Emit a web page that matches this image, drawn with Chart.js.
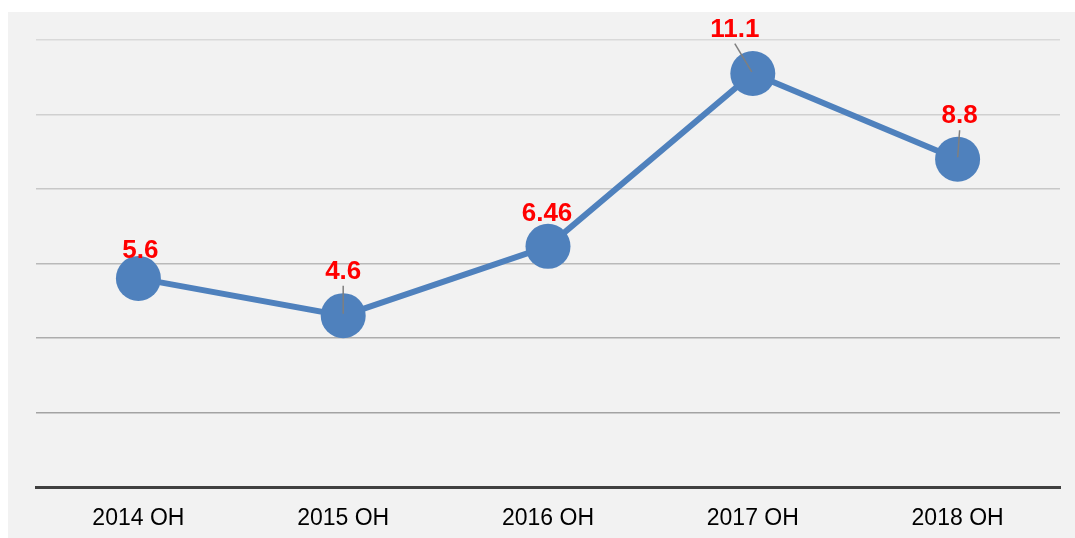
<!DOCTYPE html>
<html>
<head>
<meta charset="utf-8">
<script src="https://cdn.jsdelivr.net/npm/chart.js@4/dist/chart.umd.min.js"></script>
<style>
  html, body { margin: 0; padding: 0; background: #ffffff; }
  #wrap { position: absolute; left: 8px; top: 12px; width: 1067px; height: 526px; background: #f2f2f2; }
  #chart { display: block; }
</style>
</head>
<body>
<div id="wrap"><canvas id="chart" width="1067" height="526"></canvas></div>
<script>
// データ
const categories = ["2014 OH", "2015 OH", "2016 OH", "2017 OH", "2018 OH"];
const values = [5.6, 4.6, 6.46, 11.1, 8.8];
const valueLabels = ["5.6", "4.6", "6.46", "11.1", "8.8"];

// 目盛線の色（下ほど濃い）
const gridColors = ['#404040', '#a3a3a3', '#adadad', '#b9b9b9', '#c8c8c8', '#d0d0d0', '#d9d9d9'];

// ラベルのずらし量と引き出し線
const labelPlugin = {
  id: 'valueLabels',
  afterDatasetsDraw(chart) {
    const ctx = chart.ctx;
    const meta = chart.getDatasetMeta(0);
    const offsets = [[2, -28], [0, -44], [-1, -33], [-18, -44], [2, -43]];
    ctx.save();
    meta.data.forEach((pt, i) => {
      const lx = pt.x + offsets[i][0];
      const ly = pt.y + offsets[i][1];
      // 引き出し線
      const dx = lx - pt.x, dy = ly + 14 - pt.y;
      const len = Math.sqrt(dx * dx + dy * dy);
      if (len > 24) {
        ctx.strokeStyle = '#7f7f7f';
        ctx.lineWidth = 1.5;
        ctx.beginPath();
        ctx.moveTo(pt.x + dx * 2 / len, pt.y + dy * 2 / len);
        ctx.lineTo(lx, ly + 14);
        ctx.stroke();
      }
      ctx.fillStyle = '#ff0000';
      ctx.font = 'bold 26px "Liberation Sans", Arial, sans-serif';
      ctx.textAlign = 'center';
      ctx.textBaseline = 'middle';
      ctx.fillText(valueLabels[i], lx, ly);
    });
    ctx.restore();
  }
};

let ctx = document.getElementById('chart').getContext('2d');
let chart = new Chart(ctx, {
  type: 'line',
  data: {
    labels: categories,
    datasets: [{
      data: values,
      borderColor: '#4f81bd',
      backgroundColor: '#4f81bd',
      borderWidth: 6,
      pointRadius: 22.5,
      pointHoverRadius: 22.5,
      pointBorderWidth: 0,
      tension: 0,
      clip: false
    }]
  },
  options: {
    responsive: false,
    animation: false,
    devicePixelRatio: 1,
    layout: { autoPadding: false, padding: { left: 28, right: 15, top: 28, bottom: 8 } },
    plugins: { legend: { display: false }, tooltip: { enabled: false } },
    scales: {
      x: {
        offset: true,
        afterFit: (s) => { s.height = 43; },
        grid: { display: false, drawTicks: false },
        border: { display: true, color: '#404040', width: 3 },
        ticks: {
          color: '#000000',
          padding: 18,
          maxRotation: 0,
          font: { size: 23, family: '"Liberation Sans", Arial, sans-serif' }
        }
      },
      y: {
        min: 0,
        max: 12,
        ticks: { display: false, stepSize: 2 },
        border: { display: false },
        grid: {
          drawTicks: false,
          lineWidth: 1.5,
          color: (c) => gridColors[c.index] || '#d9d9d9'
        }
      }
    }
  },
  plugins: [labelPlugin]
});
</script>
</body>
</html>
